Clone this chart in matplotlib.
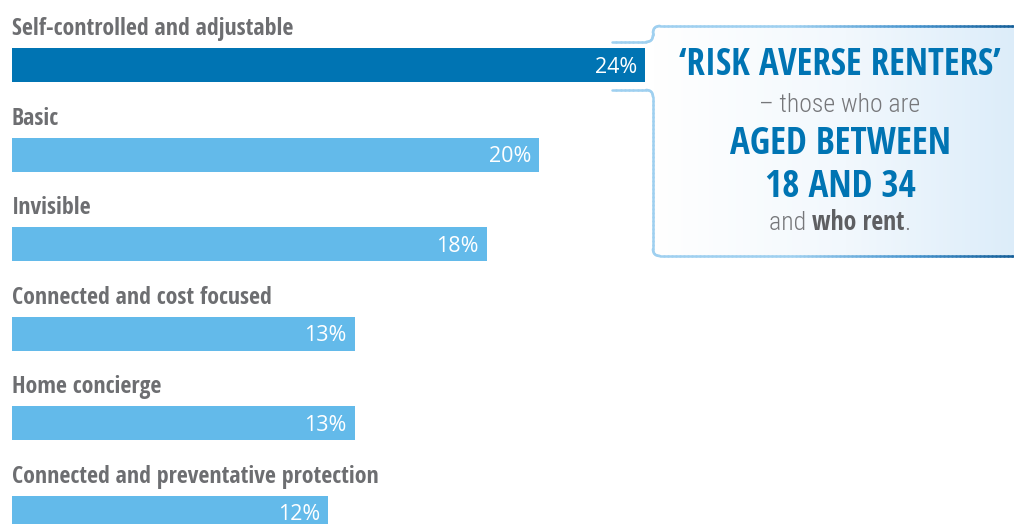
import matplotlib
matplotlib.use("Agg")
import matplotlib.pyplot as plt
import numpy as np
from matplotlib.path import Path
from matplotlib.patches import FancyBboxPatch
from matplotlib.collections import LineCollection
from matplotlib.colors import LinearSegmentedColormap

# datos del grafico
categorias = ["Self-controlled and adjustable", "Basic", "Invisible",
              "Connected and cost focused", "Home concierge",
              "Connected and preventative protection"]
valores = [24, 20, 18, 13, 13, 12]
destacado = 0  # barra resaltada

NEGRITA = ["Open Sans Condensed", "Roboto Condensed", "DejaVu Sans"]
LIGERA = ["Roboto Condensed", "Open Sans", "DejaVu Sans"]
NUMEROS = ["Open Sans", "DejaVu Sans"]
plt.rcParams["font.family"] = NEGRITA

GRIS = "#6d6e71"
GRIS_CLARO = "#76777a"
AZUL_OSCURO = "#0074b3"
AZUL_CLARO = "#63baea"

W, H = 1014, 524
fig = plt.figure(figsize=(W / 100, H / 100), dpi=100)

# eje principal de barras (ocupa toda la figura)
ax = fig.add_axes([0, 0, 1, 1])
px_por_pct = 633 / 24
ax.set_xlim(-12 / px_por_pct, (W - 12) / px_por_pct)
fila = 89.6
ax.set_ylim((H - 65) / fila, -65 / fila)
ax.axis("off")

y = np.arange(len(categorias))
colores = [AZUL_OSCURO if i == destacado else AZUL_CLARO for i in y]
ax.barh(y, valores, height=34 / fila, color=colores, align="center")

for i, (cat, v) in enumerate(zip(categorias, valores)):
    ax.text(0, i - 30 / fila, cat, ha="left", va="baseline", fontsize=17.2,
            fontweight="bold", color=GRIS, family=NEGRITA)
    ax.text(v - 8 / px_por_pct, i + 7.5 / fila, f"{v}%", ha="right", va="baseline",
            fontsize=15.5, fontweight="medium", color="white", family=NUMEROS)

# capa de anotacion en pixeles
ov = fig.add_axes([0, 0, 1, 1], zorder=5)
ov.axis("off")
ov.patch.set_alpha(0)

x0, x1, y0, y1 = 653, 1040, 26, 256
caja = FancyBboxPatch((x0, y0), x1 - x0, y1 - y0, boxstyle="round,pad=0,rounding_size=8",
                      facecolor="none", edgecolor="none")
ov.add_patch(caja)
grad = np.linspace(0, 1, 256)[None, :]
cmap_fondo = LinearSegmentedColormap.from_list("fondo", ["#ffffff", "#f2f8fd", "#d9ebf9"])
img = ov.imshow(grad, cmap=cmap_fondo, extent=[x0, x1, y1, y0], aspect="auto", zorder=1)
img.set_clip_path(caja)
ov.set_xlim(0, W)
ov.set_ylim(H, 0)

# borde de la caja con las pestañas hacia la barra
r = 7
xs = 612
sup = [(xs, 42), (x0 - r, 42), (x0, 42), (x0, 42 - r), (x0, y0 + r), (x0, y0), (x0 + r, y0), (x1, y0)]
inf = [(xs, 90), (x0 - r, 90), (x0, 90), (x0, 90 + r), (x0, y1 - r), (x0, y1), (x0 + r, y1), (x1, y1)]
codes = [Path.MOVETO, Path.LINETO, Path.CURVE3, Path.CURVE3, Path.LINETO, Path.CURVE3, Path.CURVE3, Path.LINETO]
cmap_borde = LinearSegmentedColormap.from_list(
    "borde", [(0, "#9fd0f0"), (0.45, "#9fd0f0"), (0.75, "#4a96cf"), (1, "#155f99")])
for pts in (sup, inf):
    p = Path(pts, codes)
    puntos = np.vstack(p.to_polygons(closed_only=False))
    # densificar para el degradado
    dens = []
    for a, b in zip(puntos[:-1], puntos[1:]):
        n = max(2, int(np.hypot(*(b - a)) / 4))
        dens.append(np.linspace(a, b, n, endpoint=False))
    dens.append(puntos[-1:])
    dens = np.vstack(dens)
    segs = np.stack([dens[:-1], dens[1:]], axis=1)
    t = np.clip((segs[:, :, 0].mean(axis=1) - 612) / (W - 612), 0, 1)
    lc = LineCollection(segs, colors=cmap_borde(t), linewidths=1.8, capstyle="round", zorder=3)
    ov.add_collection(lc)

cx = 840
ov.text(cx, 75, "\u2018RISK AVERSE RENTERS\u2019", ha="center", va="baseline",
        fontsize=26.5, fontweight="bold", color=AZUL_OSCURO, family=NEGRITA, zorder=4)
ov.text(cx, 112, "\u2013 those who are", ha="center", va="baseline",
        fontsize=18.5, fontweight="light", color=GRIS_CLARO, family=LIGERA, zorder=4)
ov.text(cx, 154, "AGED BETWEEN", ha="center", va="baseline",
        fontsize=26.7, fontweight="bold", color=AZUL_OSCURO, family=NEGRITA, zorder=4)
ov.text(cx, 197, "18 AND 34", ha="center", va="baseline",
        fontsize=26.7, fontweight="bold", color=AZUL_OSCURO, family=NEGRITA, zorder=4)

# ultima linea con partes en negrita
partes = [("and ", "light", LIGERA, GRIS_CLARO), ("who rent", "bold", NEGRITA, "#5e5f62"),
          (".", "light", LIGERA, GRIS_CLARO)]
renderer = fig.canvas.get_renderer()
textos = []
for s, w, fam, col in partes:
    t = ov.text(0, 230, s, ha="left", va="baseline", fontsize=18.5, fontweight=w,
                family=fam, color=col, zorder=4)
    textos.append(t)
anchos = [t.get_window_extent(renderer).width for t in textos]
xpos = cx - sum(anchos) / 2
for t, a in zip(textos, anchos):
    t.set_x(xpos)
    xpos += a

fig.savefig("out.png", dpi=100)
